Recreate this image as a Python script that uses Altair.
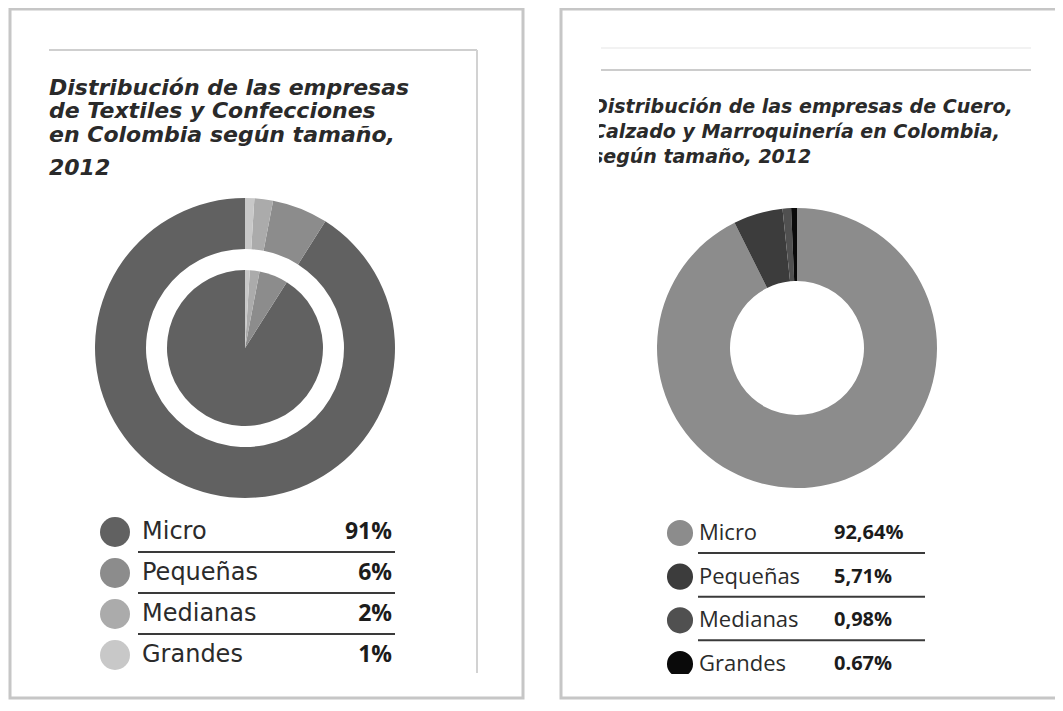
import altair as alt
import pandas as pd

# ---------------- data ----------------
categories = ["Micro", "Pequeñas", "Medianas", "Grandes"]

left_values = [91, 6, 2, 1]
left_labels = ["91%", "6%", "2%", "1%"]
left_colors = ["#616161", "#8c8c8c", "#ababab", "#c8c8c8"]
left_slice_order = [4, 3, 2, 1]   # clockwise from 12 o'clock: Grandes, Medianas, Pequeñas, Micro

right_values = [92.64, 5.71, 0.98, 0.67]
right_labels = ["92,64%", "5,71%", "0,98%", "0.67%"]
right_colors = ["#8c8c8c", "#3c3c3c", "#505050", "#0a0a0a"]
right_slice_order = [1, 2, 3, 4]  # clockwise from 12 o'clock: Micro, Pequeñas, Medianas, Grandes

left_title = ["Distribución de las empresas", "de Textiles y Confecciones",
              "en Colombia según tamaño,", "2012"]
right_title = ["Distribución de las empresas de Cuero,",
               "Calzado y Marroquinería en Colombia,", "según tamaño, 2012"]

df_left = pd.DataFrame({"cat": categories, "value": left_values, "label": left_labels,
                        "color": left_colors, "ord": left_slice_order})
df_right = pd.DataFrame({"cat": categories, "value": right_values, "label": right_labels,
                         "color": right_colors, "ord": right_slice_order})
dummy = pd.DataFrame({"k": [0]})

W, H = 1047, 692
layers = []


def rect(x, x2, y, y2, stroke=None, sw=0, fill=None):
    kw = {}
    if stroke:
        kw["stroke"] = stroke
        kw["strokeWidth"] = sw
    if fill:
        kw["fill"] = fill
    else:
        kw["fillOpacity"] = 0
    return alt.Chart(dummy).mark_rect(**kw).encode(
        x=alt.value(x), x2=alt.value(x2), y=alt.value(y), y2=alt.value(y2))


def hrule(x, x2, y, color, sw):
    return alt.Chart(dummy).mark_rule(color=color, strokeWidth=sw).encode(
        x=alt.value(x), x2=alt.value(x2), y=alt.value(y))


def vrule(x, y, y2, color, sw):
    return alt.Chart(dummy).mark_rule(color=color, strokeWidth=sw).encode(
        x=alt.value(x), y=alt.value(y), y2=alt.value(y2))


# panel frames
layers.append(rect(2, 515, 1, H - 2, stroke="#c6c6c6", sw=3))
layers.append(rect(553, W + 20, 1, H - 2, stroke="#c6c6c6", sw=3))

# inner decorative lines
layers.append(hrule(41, 469, 42, "#cfcfcf", 2))
layers.append(vrule(469, 42, 665, "#d2d2d2", 2))
layers.append(hrule(593, 1023, 40, "#eeeeee", 1.5))
layers.append(hrule(593, 1023, 62, "#cccccc", 2))

# titles
for line, yy in zip(left_title, [87, 110, 134, 167]):
    layers.append(alt.Chart(dummy).mark_text(
        text=line, align="left", baseline="alphabetic", font="DejaVu Sans",
        fontSize=22, fontStyle="italic", fontWeight="bold", color="#2a2a2a"
    ).encode(x=alt.value(41), y=alt.value(yy)))

for line, yy in zip(right_title, [105, 130, 155]):
    layers.append(alt.Chart(dummy).mark_text(
        text=line, align="left", baseline="alphabetic", font="DejaVu Sans",
        fontSize=19, fontStyle="italic", fontWeight="bold", color="#2a2a2a"
    ).encode(x=alt.value(584), y=alt.value(yy)))
# the right title is cut at its left edge in the original
layers.append(rect(562, 591, 80, 165, fill="white"))

# donuts
theta = alt.Theta("value:Q", stack=True)
order = alt.Order("ord:Q")
col = alt.Color("color:N", scale=None)

layers.append(alt.Chart(df_left).mark_arc(radius=150, radius2=99).encode(
    theta=theta, order=order, color=col, x=alt.value(237), y=alt.value(340)))
layers.append(alt.Chart(df_left).mark_arc(radius=78).encode(
    theta=theta, order=order, color=col, x=alt.value(237), y=alt.value(340)))
layers.append(alt.Chart(df_right).mark_arc(radius=140, radius2=67).encode(
    theta=theta, order=order, color=col, x=alt.value(789), y=alt.value(340)))

# legends
y_left = alt.Y("cat:N", axis=None,
               scale=alt.Scale(type="point", domain=categories, range=[524, 647], padding=0))
y_right = alt.Y("cat:N", axis=None,
                scale=alt.Scale(type="point", domain=categories, range=[525, 656], padding=0))

layers.append(alt.Chart(df_left).mark_point(filled=True, shape="circle", size=900, opacity=1).encode(
    x=alt.value(107), y=y_left, color=col))
layers.append(alt.Chart(df_left).mark_text(
    align="left", baseline="middle", font="DejaVu Sans", fontSize=24, color="#2b2b2b").encode(
    x=alt.value(134), y=y_left, text="cat:N"))
layers.append(alt.Chart(df_left).mark_text(
    align="right", baseline="middle", font="Open Sans", fontWeight="bold", fontSize=23,
    color="#1c1c1c").encode(x=alt.value(384), y=y_left, text="label:N"))
layers.append(alt.Chart(df_left).transform_filter("datum.cat != 'Grandes'").mark_rule(
    yOffset=20, color="#3a3a3a", strokeWidth=2).encode(
    x=alt.value(130), x2=alt.value(387), y=y_left))

layers.append(alt.Chart(df_right).mark_point(filled=True, shape="circle", size=680, opacity=1).encode(
    x=alt.value(672), y=y_right, color=col))
layers.append(alt.Chart(df_right).mark_text(
    align="left", baseline="middle", font="Open Sans", fontSize=22, color="#2b2b2b").encode(
    x=alt.value(691), y=y_right, text="cat:N"))
layers.append(alt.Chart(df_right).mark_text(
    align="left", baseline="middle", font="Open Sans", fontWeight="bold", fontSize=20,
    color="#1c1c1c").encode(x=alt.value(826), y=y_right, text="label:N"))
layers.append(alt.Chart(df_right).transform_filter("datum.cat != 'Grandes'").mark_rule(
    yOffset=20, color="#3a3a3a", strokeWidth=2).encode(
    x=alt.value(690), x2=alt.value(917), y=y_right))
# the original legend is cut at the bottom
layers.append(rect(600, 1000, 666, 686, fill="white"))

chart = alt.layer(*layers).resolve_scale(
    y="independent", theta="independent"
).properties(
    width=W, height=H, padding=0, autosize=alt.AutoSizeParams(type="none"),
    background="white"
).configure_view(stroke=None)

chart.save("out.html", embed_options={"renderer": "svg", "actions": False})
